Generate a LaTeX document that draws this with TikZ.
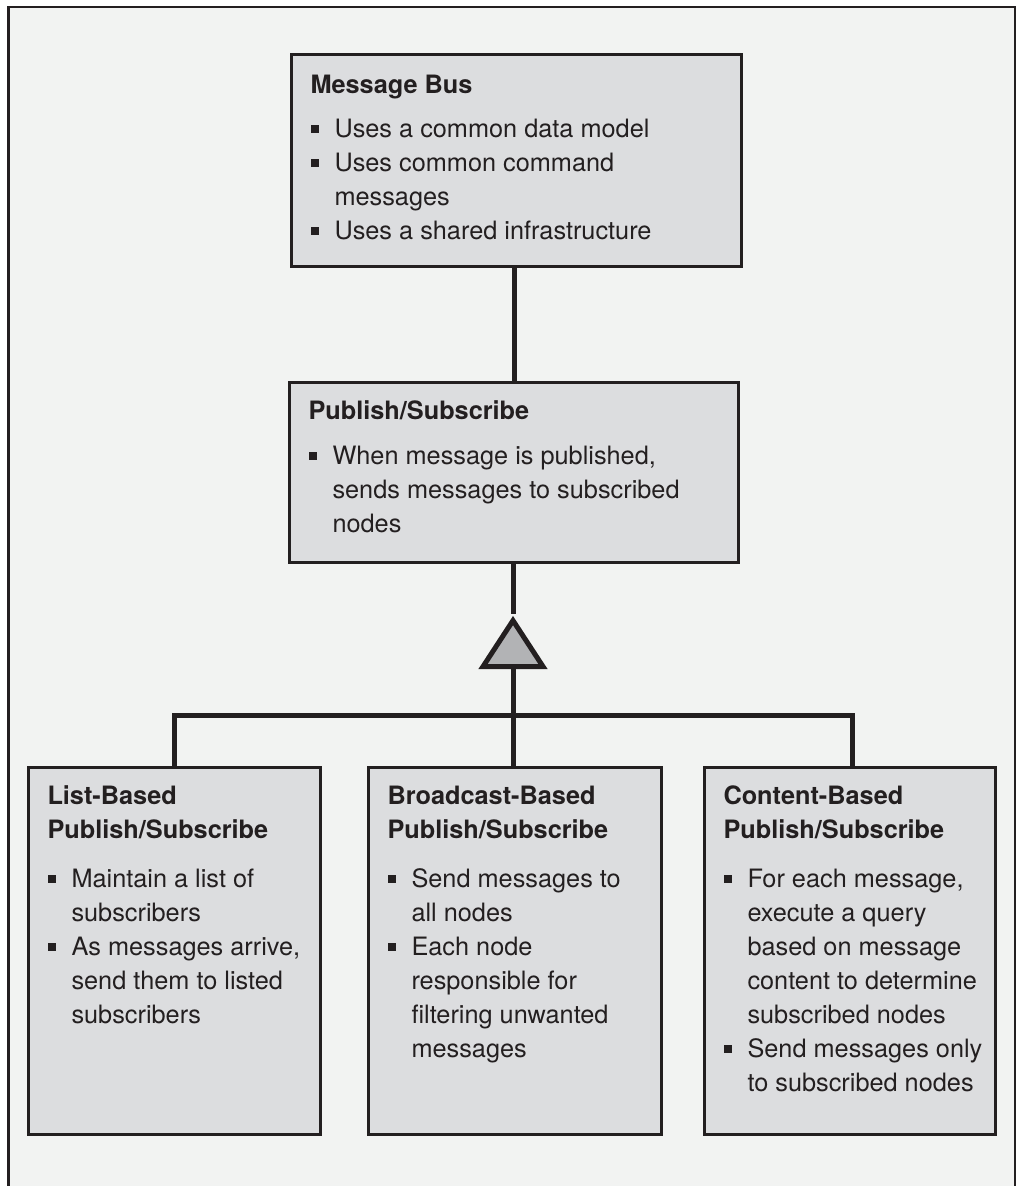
\documentclass[tikz,border=0pt]{standalone}
\usepackage{fontspec}
\setmainfont{TeX Gyre Heros}
\usepackage{xcolor}
\usepackage{tikz}
\usetikzlibrary{shapes.geometric}
\definecolor{pagegray}{RGB}{242,243,242}
\definecolor{boxgray}{RGB}{220,221,223}
\definecolor{trigray}{RGB}{178,179,181}
\definecolor{inkdark}{RGB}{35,31,32}
\newcommand{\bul}{\makebox[24pt][l]{\raisebox{4.5pt}{\rule{8pt}{8pt}}}}
\newcommand{\ind}{\hspace*{24pt}}
\newcommand{\boxtext}[3]{\hspace*{19pt}\parbox[c][#2][t]{#1}{\raggedright #3}}

\begin{document}
\begin{tikzpicture}[
    x=1pt, y=-1pt,
    classbox/.style={draw=inkdark, line width=3pt, fill=boxgray, inner sep=0pt, anchor=north west,
        text=inkdark, font=\fontsize{25.3}{34}\selectfont},
    link/.style={draw=inkdark, line width=5pt},
    generaltri/.style={isosceles triangle, isosceles triangle stretches, shape border rotate=90,
        minimum width=60pt, minimum height=46pt, inner sep=0pt, anchor=apex,
        draw=inkdark, line width=5pt, line join=miter, fill=trigray},
]
    \useasboundingbox (0,0) rectangle (1017,1186);
    \fill[white] (0,0) rectangle (1017,1186);
    \fill[pagegray] (8.7,7) rectangle (1015,1190);
    \draw[inkdark, line width=2.7pt] (8.7,1190) -- (8.7,7) -- (1015,7) -- (1015,1190);

    \node[classbox] (bus) at (290,53) {\boxtext{431pt}{212pt}{%
        \rule{0pt}{39pt}\textbf{Message Bus}\\[10pt]
        \bul Uses a common data model\\
        \bul Uses common command\\
        \ind messages\\
        \bul Uses a shared infrastructure}};
    \node[classbox] (pubsub) at (288,381) {\boxtext{430pt}{180pt}{%
        \rule{0pt}{37pt}\textbf{Publish/Subscribe}\\[11pt]
        \bul When message is published,\\
        \ind sends messages to subscribed\\
        \ind nodes}};
    \node[generaltri] (tri) at (513,614) {};

    \node[classbox] (listps) at (27,766) {\boxtext{273pt}{367pt}{%
        \rule{0pt}{37pt}\textbf{List-Based}\\
        \textbf{Publish/Subscribe}\\[15pt]
        \bul Maintain a list of\\
        \ind subscribers\\
        \bul As messages arrive,\\
        \ind send them to listed\\
        \ind subscribers}};
    \node[classbox] (bcastps) at (367,766) {\boxtext{274pt}{367pt}{%
        \rule{0pt}{37pt}\textbf{Broadcast-Based}\\
        \textbf{Publish/Subscribe}\\[15pt]
        \bul Send messages to\\
        \ind all nodes\\
        \bul Each node\\
        \ind responsible for\\
        \ind filtering unwanted\\
        \ind messages}};
    \node[classbox] (contentps) at (703,766) {\boxtext{272pt}{367pt}{%
        \rule{0pt}{37pt}\textbf{Content-Based}\\
        \textbf{Publish/Subscribe}\\[15pt]
        \bul For each message,\\
        \ind execute a query\\
        \ind based on message\\
        \ind content to determine\\
        \ind subscribed nodes\\
        \bul Send messages only\\
        \ind to subscribed nodes}};

    \coordinate (bar) at (0,715);
    \draw[link] (pubsub.north) -- (pubsub.north |- bus.south);
    \draw[link] (tri.apex |- pubsub.south) -- (tri.apex);
    \draw[link] (tri.lower side) -- (tri.lower side |- bcastps.north);
    \draw[link] (listps.north) -- (listps.north |- bar) -- ([xshift=2pt]contentps.north |- bar) -- ([xshift=2pt]contentps.north);
\end{tikzpicture}
\end{document}
